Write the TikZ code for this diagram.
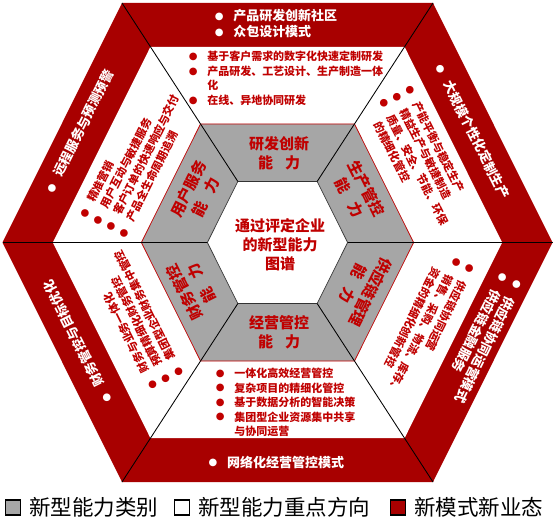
\documentclass[tikz,border=0pt]{standalone}
\usepackage{fontspec}
\setmainfont{Noto Sans CJK SC}
\newfontfamily\bulfont{DejaVu Sans}
\definecolor{bandred}{RGB}{168,0,0}
\definecolor{txtred}{RGB}{192,0,0}
\definecolor{capgray}{RGB}{166,166,166}
\newcommand\bul{\makebox[18.5pt][l]{\raisebox{1.2pt}{\bulfont\fontsize{10pt}{10pt}\selectfont ●}}}
\newcommand\ind{\hspace*{18.5pt}}
\newcommand\myhex[1]{({277.5-155.5*#1},{242.5-239.5*#1}) -- ({277.5+155.5*#1},{242.5-239.5*#1}) -- ({277.5+275*#1},242.5) -- ({277.5+155.5*#1},{242.5+239.5*#1}) -- ({277.5-155.5*#1},{242.5+239.5*#1}) -- ({277.5-275*#1},242.5) -- cycle}
\tikzset{
  redtxt/.style={text=white, font=\bfseries\fontsize{13pt}{16pt}\selectfont, align=left, inner sep=0pt},
  whtxt/.style={text=txtred, font=\bfseries\fontsize{11pt}{14.5pt}\selectfont, align=left, inner sep=0pt},
  graytxt/.style={text=txtred, font=\bfseries\fontsize{15pt}{19pt}\selectfont, align=center, inner sep=0pt},
  spoke/.style={draw=black, line width=0.85pt},
  legbox/.style={draw=black, line width=1.1pt, minimum size=15pt, inner sep=0pt},
  legtxt/.style={text=black, font=\fontsize{21.5pt}{24pt}\selectfont, inner sep=0pt, anchor=west}
}
\begin{document}
\begin{tikzpicture}[x=1pt,y=-1pt]
\useasboundingbox (0,0) rectangle (558,519);
% rings
\fill[bandred] \myhex{1};
\fill[white] \myhex{0.817};
\filldraw[fill=capgray, draw=txtred, line width=0.7pt] \myhex{0.495};
\filldraw[fill=white, draw=black!80, line width=0.7pt] \myhex{0.255};
% vertices
\coordinate (o1) at (122,3);
\coordinate (o2) at (433,3);
\coordinate (o3) at (552.5,242.5);
\coordinate (o4) at (433,482);
\coordinate (o5) at (122,482);
\coordinate (o6) at (2.5,242.5);
\coordinate (c1) at (237.8,181.4);
\coordinate (c2) at (317.2,181.4);
\coordinate (c3) at (347.6,242.5);
\coordinate (c4) at (317.2,303.6);
\coordinate (c5) at (237.8,303.6);
\coordinate (c6) at (207.4,242.5);
\draw[spoke] (o1) -- (c1);
\draw[spoke] (o2) -- (c2);
\draw[spoke] (o3) -- (c3);
\draw[spoke] (o4) -- (c4);
\draw[spoke] (o5) -- (c5);
\draw[spoke] (o6) -- (c6);
% centre
\node[graytxt] (ctr) at (280,245) {通过评定企业\\的新型能力\\图谱};
% gray sectors
\node[graytxt] (gT) at (279,153) {研发创新\\能\hspace{0.8em}力};
\node[graytxt, rotate=-63.4] (gUR) at (358,193) {生产管控\\能\hspace{0.8em}力};
\node[graytxt, rotate=-116.6] (gLR) at (362,288) {供应链管理\\能\hspace{0.8em}力};
\node[graytxt] (gB) at (279,332) {经营管控\\能\hspace{0.8em}力};
\node[graytxt, rotate=116.6] (gLL) at (193,288) {财务管控\\能\hspace{0.8em}力};
\node[graytxt, rotate=63.4] (gUL) at (197,193) {用户服务\\能\hspace{0.8em}力};
% white band
\node[whtxt] (wT) at (286,78.5) {\bul 基于客户需求的数字化快速定制研发\\\bul 产品研发、工艺设计、生产制造一体\\\ind 化\\\bul 在线、异地协同研发};
\node[whtxt] (wB) at (285.5,402.5) {\bul 一体化高效经营管控\\\bul 复杂项目的精细化管控\\\bul 基于数据分析的智能决策\\\bul 集团型企业资源集中共享\\\ind 与协同运营};
\node[whtxt, rotate=63.4] (wUL) at (136,160) {\bul 精准营销\\\bul 用户互动与敏捷服务\\\bul 客户订单的快速响应与交付\\\bul 产品全生命周期追溯};
\node[whtxt, rotate=-63.4] (wUR) at (420,158.5) {\bul 产能平衡与稳定生产\\\bul 精益生产与敏捷制造\\\bul 质量、安全、节能、环保\\\ind 的精细化管控};
\node[whtxt, rotate=-116.6] (wLR) at (425,326) {\bul 供应链协同运营\\\bul 销售、采购、物流、库存、\\\ind 资金的精细化创新管控};
\node[whtxt, rotate=116.6] (wLL) at (136,320) {\bul 财务与业务一体化\\\bul 预算精细化财务管控\\\bul 集团型企业财务集中管控};
% red band
\node[redtxt] (rT) at (276,23.5) {\bul 产品研发创新社区\\\bul 众包设计模式};
\node[redtxt] (rB) at (276.3,462) {\bul 网络化经营管控模式};
\node[redtxt, rotate=63.4] (rUL) at (79.5,131.5) {\bul 远程服务与预测预警};
\node[redtxt, rotate=-63.4] (rUR) at (472.5,131.5) {\bul 大规模个性化定制生产};
\node[redtxt, rotate=-116.6] (rLR) at (482,338) {\bul 供应链协同运营模式\\\bul 供应链金融服务};
\node[redtxt, rotate=116.6] (rLL) at (77.5,342) {\bul 财务管控与目标优化};
% legend
\node[legbox, fill=capgray] (lb1) at (13.3,507.5) {};
\node[legtxt] (lt1) at (29,507.5) {新型能力类别};
\node[legbox, fill=white] (lb2) at (182,507.5) {};
\node[legtxt] (lt2) at (198,507.5) {新型能力重点方向};
\node[legbox, fill=bandred] (lb3) at (398,507.5) {};
\node[legtxt] (lt3) at (414,507.5) {新模式新业态};
\end{tikzpicture}
\end{document}
